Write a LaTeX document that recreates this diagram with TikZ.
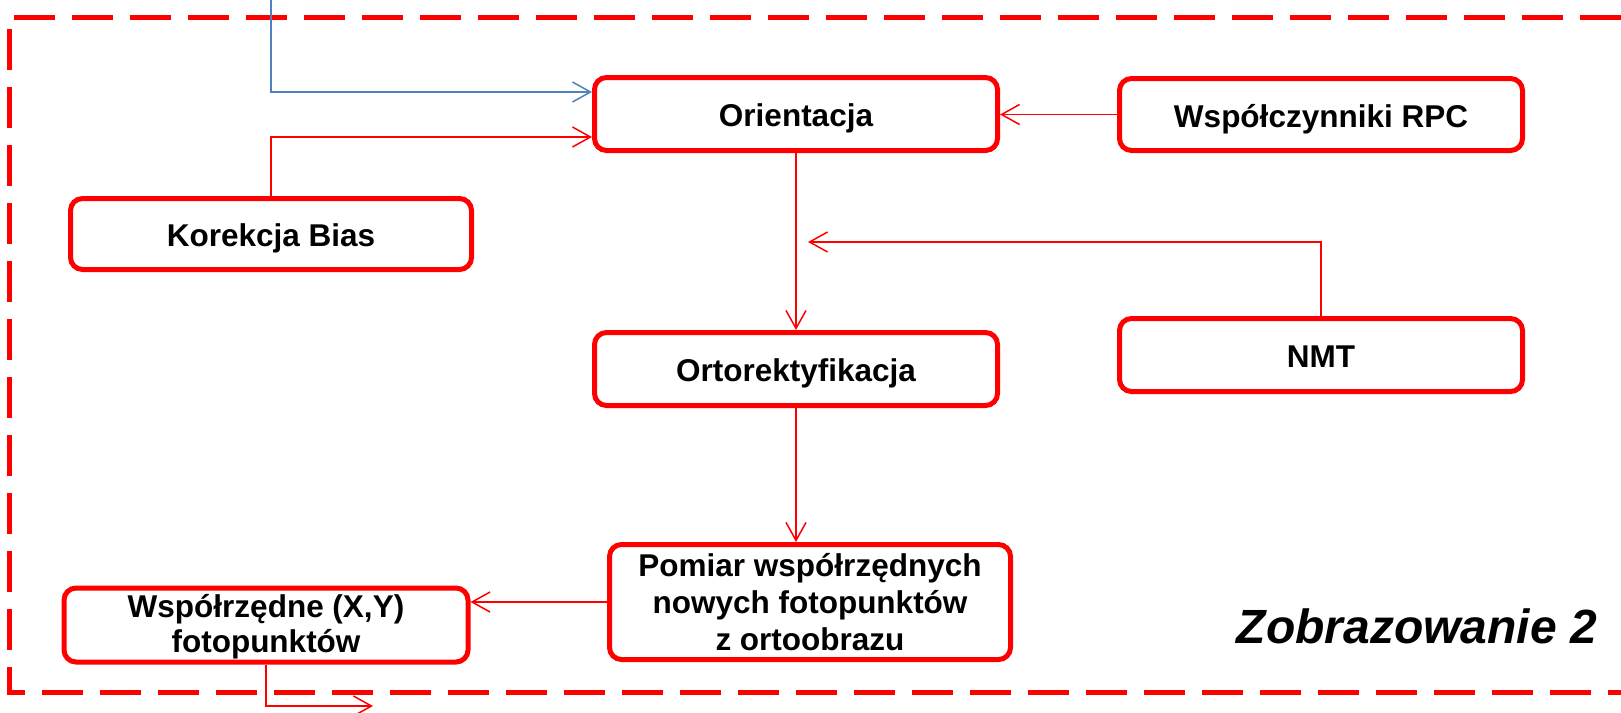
\documentclass[tikz,border=0pt]{standalone}
\usepackage{fontspec}
\setmainfont{Liberation Sans}
\usetikzlibrary{arrows.meta}
\definecolor{boxred}{RGB}{255,0,0}
\definecolor{lineblue}{RGB}{79,129,189}
\begin{document}
\begin{tikzpicture}[x=1pt,y=-1pt,
  box/.style={draw=boxred, line width=5pt, rounded corners=12pt, fill=white,
    align=center, inner sep=0pt, font=\fontsize{31.5}{37}\selectfont\bfseries},
  onebox/.style={box, text height=25.4pt, text depth=0pt},
  txt/.style={inner sep=0pt, anchor=base, font=\fontsize{31.5}{35}\selectfont\bfseries},
  conn/.style={draw=boxred, line width=1.5pt, -{Straight Barb[length=18pt,width=20pt]}},
  bconn/.style={draw=lineblue, line width=1.5pt, -{Straight Barb[length=18pt,width=20pt]}},
  frame/.style={draw=boxred, line width=5pt, dash pattern=on 41pt off 17pt}
]
\useasboundingbox (0,0) rectangle (1621,712);
\draw[frame] (1621,17) -- (9,17) -- (9,692) -- (1621,692);

\node[onebox, minimum width=403pt, minimum height=73pt] (ori) at (796,114) {Orientacja};
\node[onebox, minimum width=403pt, minimum height=72pt] (rpc) at (1321,114.5) {Współczynniki RPC};
\node[onebox, minimum width=401pt, minimum height=71pt] (kor) at (271,234) {Korekcja Bias};
\node[onebox, minimum width=403pt, minimum height=73pt] (ort) at (796,369) {Ortorektyfikacja};
\node[onebox, minimum width=403pt, minimum height=73pt] (nmt) at (1321,355) {NMT};
\node[box, minimum width=401pt, minimum height=115pt, font=\fontsize{31.5}{36.8}\selectfont\bfseries] (pom) at (810,602) {Pomiar współrzędnych\\nowych fotopunktów\\z ortoobrazu};
\node[box, minimum width=404pt, minimum height=74pt] (wsp) at (266,625) {};
\node[txt] (wsp1) at (266,617) {Współrzędne (X,Y)};
\node[txt] (wsp2) at (266,652) {fotopunktów};

\node[anchor=base east, inner sep=0pt, font=\fontsize{48}{52}\selectfont\bfseries\itshape] (zob) at (1597,643) {Zobrazowanie 2};

\coordinate (btop) at (271,0);
\coordinate (nmtend) at (808,242);
\coordinate (outend) at (373,706);

\draw[bconn] (btop) |- ([yshift=22pt]ori.west);
\draw[conn] (kor.north) |- ([yshift=-23pt]ori.west);
\draw[conn] (rpc.west) -- (rpc.west -| ori.east);
\draw[conn] (ori.south) -- (ort.north);
\draw[conn] (nmt.north) |- (nmtend);
\draw[conn] (ort.south) -- (ort.south |- pom.north);
\draw[conn] (pom.west) -- (pom.west -| wsp.east);
\draw[conn] (wsp.south) |- (outend);
\end{tikzpicture}
\end{document}
